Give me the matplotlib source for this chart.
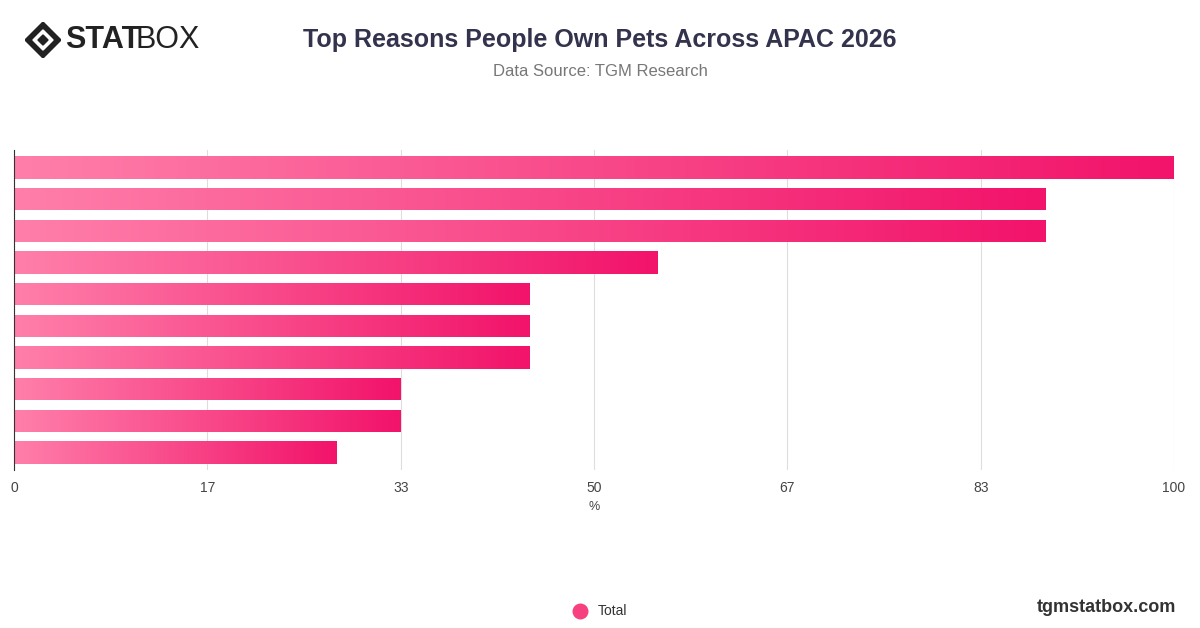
import matplotlib
matplotlib.use("Agg")
import matplotlib.pyplot as plt
import numpy as np
from matplotlib.colors import LinearSegmentedColormap
from matplotlib.patches import Rectangle, Polygon

categories = ["R1", "R2", "R3", "R4", "R5", "R6", "R7", "R8", "R9", "R10"]
values = [100, 88.9, 88.9, 55.5, 44.4, 44.4, 44.4, 33.3, 33.3, 27.8]
tick_vals = [0, 100/6, 200/6, 50, 400/6, 500/6, 100]
tick_labels = ["0", "17", "33", "50", "67", "83", "100"]

plt.rcParams['font.family'] = ['Liberation Sans', 'DejaVu Sans']
fig = plt.figure(figsize=(12, 6.28), dpi=100)
ax = fig.add_axes([14/1200, 1-470/628, 1160/1200, 320/628])
cmap = LinearSegmentedColormap.from_list("p", ["#FF7FAA", "#F2136A"])
grad = np.linspace(0, 1, 256).reshape(1, -1)
n = len(values)
h = 0.7
for i, v in enumerate(values):
    y = i
    im = ax.imshow(grad, cmap=cmap, aspect='auto', extent=[0, v, y + h/2, y - h/2], zorder=2)
    r = Rectangle((0, y - h/2), v, h, transform=ax.transData, fill=False, lw=0)
    ax.add_patch(r)
    im.set_clip_path(r)
ax.set_xlim(0, 100)
ax.set_ylim(n - 0.5 + 0.05, -0.5 - 0.05)
ax.set_xticks(tick_vals)
ax.set_xticklabels(tick_labels, fontsize=10, color="#444444")
ax.set_yticks([])
ax.tick_params(axis='x', length=0, pad=8)
ax.grid(axis='x', color="#dddddd", lw=0.8, zorder=0)
for s in ["top", "right", "bottom"]:
    ax.spines[s].set_visible(False)
ax.spines["left"].set_color("#333333")
ax.set_xlabel("%", fontsize=9, color="#444444", labelpad=4)

fig.text(0.5, 1-40/628, "Top Reasons People Own Pets Across APAC 2026", ha="center", va="center",
         fontsize=18, fontweight="bold", color="#33334d")
fig.text(0.5, 1-71/628, "Data Source: TGM Research", ha="center", va="center", fontsize=12, color="#777777")
# logo
lax = fig.add_axes([25/1200, 1-58/628, 36/1200, 36/628])
lax.set_xlim(0, 1); lax.set_ylim(0, 1); lax.axis("off")
lax.add_patch(Polygon([[0.5, 1], [1, 0.5], [0.5, 0], [0, 0.5]], color="#222222"))
lax.add_patch(Polygon([[0.5, 0.78], [0.78, 0.5], [0.5, 0.22], [0.22, 0.5]], color="white"))
lax.add_patch(Polygon([[0.5, 0.64], [0.64, 0.5], [0.5, 0.36], [0.36, 0.5]], color="#222222"))
fig.text(65/1200, 1-40/628, "STAT", ha="left", va="center", fontsize=22, fontweight="bold", color="#222222")
fig.text(136/1200, 1-40/628, "BOX", ha="left", va="center", fontsize=22, color="#222222")
# legend
fig.scatter = None
fig.text(598/1200, 1-611/628, "Total", ha="left", va="center", fontsize=10, color="#333333")
lg = fig.add_axes([572/1200, 1-619/628, 16/1200, 16/628]); lg.axis("off")
lg.scatter([0.5], [0.5], s=110, color="#F7407F"); lg.set_xlim(0, 1); lg.set_ylim(0, 1)
fig.text(1176/1200, 1-607/628, "tgmstatbox.com", ha="right", va="center", fontsize=13, fontweight="bold", color="#333333")
fig.savefig("out.png", dpi=100)
